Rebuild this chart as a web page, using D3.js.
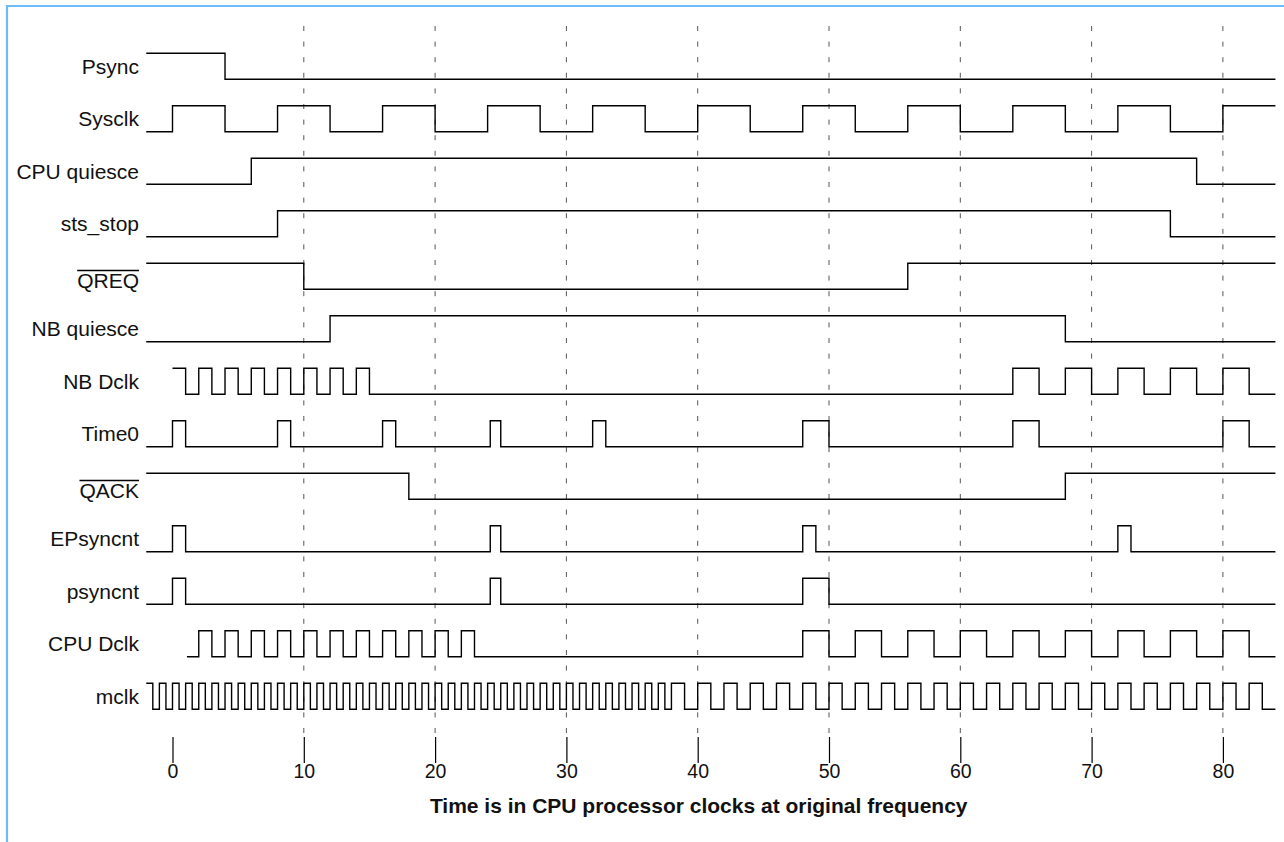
<!DOCTYPE html>
<html>
<head>
<meta charset="utf-8">
<script src="https://cdn.jsdelivr.net/npm/d3@7"></script>
<style>
  body { margin: 0; background: #fff; }
  text { font-family: "Liberation Sans", Arial, Helvetica, sans-serif; fill: #111; }
</style>
</head>
<body>
<div class="chart"></div>
<script>
// signal names, top to bottom
const signals = ['Psync', 'Sysclk', 'CPU quiesce', 'sts_stop', 'QREQ', 'NB quiesce', 'NB Dclk',
  'Time0', 'QACK', 'EPsyncnt', 'psyncnt', 'CPU Dclk', 'mclk'];
const overbarSignals = ['QREQ', 'QACK'];

// where each trace begins and its level there (1 = high)
const startTimes = [-2, -2, -2, -2, -2, -2, 0, -2, -2, -2, -2, 1.1, -2];
const startLevels = [1, 0, 0, 0, 1, 0, 1, 0, 1, 0, 0, 0, 1];
const endTime = 84;

// transition times, in CPU clocks
const psyncEdges = [4];
const sysclkEdges = [0, 4, 8, 12, 16, 20, 24, 28, 32, 36, 40, 44, 48, 52, 56, 60, 64, 68, 72, 76, 80];
const cpuQuiesceEdges = [6, 78];
const stsStopEdges = [8, 76];
const qreqEdges = [10, 56];
const nbQuiesceEdges = [12, 68];
const nbDclkEdges = [1, 2, 3, 4, 5, 6, 7, 8, 9, 10, 11, 12, 13, 14, 15, 64, 66, 68, 70, 72, 74, 76, 78, 80, 82];
const time0Edges = [0, 1, 8, 9, 16, 17, 24.2, 25, 32, 33, 48, 50, 64, 66, 80, 82];
const qackEdges = [18, 68];
const epsyncntEdges = [0, 1, 24.2, 25, 48, 49, 72, 73];
const psyncntEdges = [0, 1, 24.2, 25, 48, 50];
const cpuDclkEdges = [2, 3, 4, 5, 6, 7, 8, 9, 10, 11, 12, 13, 14, 15, 16, 17, 18, 19, 20, 21, 22, 23,
  48, 50, 52, 54, 56, 58, 60, 62, 64, 66, 68, 70, 72, 74, 76, 78, 80, 82];
const mclkEdges = [-1.5, -1, -0.5, 0, 0.5, 1, 1.5, 2, 2.5, 3, 3.5, 4, 4.5, 5, 5.5, 6, 6.5, 7, 7.5, 8, 8.5,
  9, 9.5, 10, 10.5, 11, 11.5, 12, 12.5, 13, 13.5, 14, 14.5, 15, 15.5, 16, 16.5, 17, 17.5, 18, 18.5,
  19, 19.5, 20, 20.5, 21, 21.5, 22, 22.5, 23, 23.5, 24, 24.5, 25, 25.5, 26, 26.5, 27, 27.5, 28, 28.5,
  29, 29.5, 30, 30.5, 31, 31.5, 32, 32.5, 33, 33.5, 34, 34.5, 35, 35.5, 36, 36.5, 37, 37.5,
  38, 39, 40, 41, 42, 43, 44, 45, 46, 47, 48, 49, 50, 51, 52, 53, 54, 55, 56, 57, 58, 59, 60, 61,
  62, 63, 64, 65, 66, 67, 68, 69, 70, 71, 72, 73, 74, 75, 76, 77, 78, 79, 80, 81, 82, 83];

const allEdges = [psyncEdges, sysclkEdges, cpuQuiesceEdges, stsStopEdges, qreqEdges, nbQuiesceEdges,
  nbDclkEdges, time0Edges, qackEdges, epsyncntEdges, psyncntEdges, cpuDclkEdges, mclkEdges];

const gridTicks = [10, 20, 30, 40, 50, 60, 70, 80];
const axisTicks = [0, 10, 20, 30, 40, 50, 60, 70, 80];
const axisTitle = 'Time is in CPU processor clocks at original frequency';

const width = 1284, height = 842;
const svg = d3.select('.chart').append('svg')
  .attr('width', width)
  .attr('height', height);

const x = d3.scaleLinear().domain([0, 80]).range([172.5, 1222.9]);
// y of the low level of each row
const yRow = d3.scalePoint().domain(signals).range([79.3, 709.3]);
const swing = 26;

// blue frame on top and left
svg.append('path')
  .attr('d', 'M7,842V6H1284')
  .attr('fill', 'none')
  .attr('stroke', '#6cbcfc')
  .attr('stroke-width', 2.2);

// dashed grid
svg.selectAll('.grid')
  .data(gridTicks)
  .enter()
  .append('line')
  .attr('class', 'grid')
  .attr('x1', d => x(d)).attr('x2', d => x(d))
  .attr('y1', 26).attr('y2', 737)
  .attr('stroke', '#555')
  .attr('stroke-width', 1)
  .attr('stroke-dasharray', '5,10.6');

// bottom axis: tick marks with labels, no domain line
const xAxis = d3.axisBottom(x)
  .tickValues(axisTicks)
  .tickSize(26)
  .tickPadding(3);

const axisG = svg.append('g')
  .attr('transform', 'translate(0,737)')
  .call(xAxis);
axisG.select('.domain').remove();
axisG.selectAll('.tick line').attr('stroke', '#000').attr('stroke-width', 1.2);
axisG.selectAll('.tick text')
  .attr('y', 41.3)
  .attr('dy', null)
  .style('font-size', '19.5px')
  .style('font-family', '"Liberation Sans", Arial, sans-serif')
  .attr('fill', '#111');

svg.append('text')
  .attr('x', x(40) + 1)
  .attr('y', 812.7)
  .attr('text-anchor', 'middle')
  .style('font-size', '21px')
  .style('font-weight', 'bold')
  .text(axisTitle);

// waveforms
const line = d3.line()
  .x(d => x(d[0]))
  .y(d => d[1])
  .curve(d3.curveStepAfter);

signals.forEach((name, i) => {
  const low = yRow(name), high = low - swing;
  let level = startLevels[i];
  const pts = [[startTimes[i], level ? high : low]];
  allEdges[i].forEach(t => {
    level = 1 - level;
    pts.push([t, level ? high : low]);
  });
  pts.push([endTime, level ? high : low]);

  svg.append('path')
    .attr('d', line(pts))
    .attr('fill', 'none')
    .attr('stroke', '#000')
    .attr('stroke-width', 1.4);

  const barred = overbarSignals.includes(name);
  // active-low names sit a little lower, under their bar
  const baseline = barred ? low - 1.3 : low - swing / 2 + 7.5;

  const label = svg.append('text')
    .attr('x', 139)
    .attr('y', baseline)
    .attr('text-anchor', 'end')
    .style('font-size', '21px')
    .text(name);

  if (barred) {
    const bb = label.node().getBBox();
    svg.append('line')
      .attr('x1', bb.x).attr('x2', bb.x + bb.width)
      .attr('y1', low - 18.8).attr('y2', low - 18.8)
      .attr('stroke', '#000')
      .attr('stroke-width', 1.7);
  }
});
</script>
</body>
</html>
